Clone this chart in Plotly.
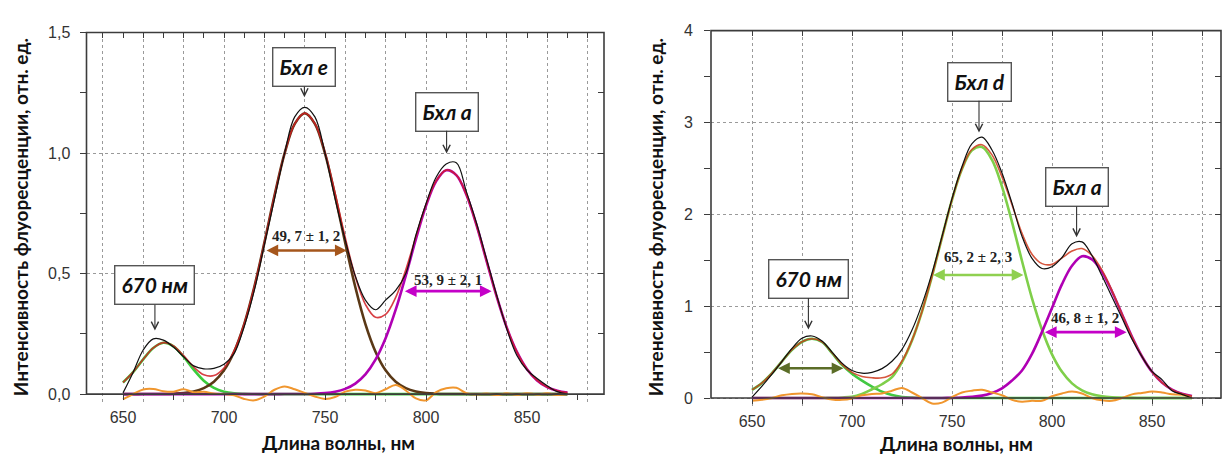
import plotly.graph_objects as go

# ---------------- data: wavelength grid, nm ----------------
wl = [650, 655, 660, 665, 670, 675, 680, 685, 690, 695, 700, 705, 710, 715, 720,
      725, 730, 735, 740, 745, 750, 755, 760, 765, 770, 775, 780, 785, 790, 795,
      800, 805, 810, 815, 820, 825, 830, 835, 840, 845, 850, 855, 860, 865, 870]

# ---------------- left panel (Бхл e / Бхл a) ----------------
left_exp = [0.005, 0.09, 0.183, 0.229, 0.224, 0.195, 0.155, 0.117, 0.105, 0.107, 0.124,
            0.168, 0.28, 0.43, 0.62, 0.81, 1.0, 1.15, 1.19, 1.15, 1.0, 0.81, 0.64, 0.49,
            0.39, 0.35, 0.39, 0.43, 0.5, 0.66, 0.79, 0.9, 0.955, 0.96, 0.84, 0.71, 0.56,
            0.41, 0.27, 0.16, 0.1, 0.065, 0.035, 0.01, 0.0]
left_fit = [0.0483, 0.0912, 0.1444, 0.1916, 0.2135, 0.2, 0.1594, 0.1123, 0.0802, 0.0768,
            0.1085, 0.1792, 0.2915, 0.4443, 0.6284, 0.8233, 0.9985, 1.1211, 1.1656, 1.1226,
            1.0027, 0.8333, 0.6501, 0.4878, 0.3725, 0.3189, 0.3305, 0.4013, 0.5163, 0.6533,
            0.7853, 0.8846, 0.9293, 0.9089, 0.8273, 0.7006, 0.552, 0.4045, 0.2758, 0.1749,
            0.1032, 0.0567, 0.0289, 0.0138, 0.0061]
left_670 = [0.0483, 0.0912, 0.1443, 0.1914, 0.2129, 0.1983, 0.1549, 0.1014, 0.0556, 0.0256,
            0.0099, 0.0032, 0.0009, 0.0002, 0, 0, 0, 0, 0, 0, 0, 0, 0, 0, 0, 0, 0, 0, 0, 0,
            0, 0, 0, 0, 0, 0, 0, 0, 0, 0, 0, 0, 0, 0, 0]
left_e = [0, 0, 0.0001, 0.0002, 0.0006, 0.0017, 0.0045, 0.0109, 0.0246, 0.0512, 0.0986,
          0.176, 0.2906, 0.4441, 0.6284, 0.8233, 0.9984, 1.1209, 1.165, 1.1209, 0.9984,
          0.8233, 0.6284, 0.4441, 0.2906, 0.176, 0.0986, 0.0512, 0.0246, 0.0109, 0.0045,
          0.0017, 0.0006, 0.0002, 0.0001, 0, 0, 0, 0, 0, 0, 0, 0, 0, 0]
left_a = [0, 0, 0, 0, 0, 0, 0, 0, 0, 0, 0, 0, 0, 0, 0, 0, 0.0001, 0.0002, 0.0006, 0.0017,
          0.0043, 0.01, 0.0217, 0.0437, 0.0819, 0.1429, 0.2319, 0.3501, 0.4917, 0.6424,
          0.7808, 0.8829, 0.9287, 0.9087, 0.8272, 0.7006, 0.552, 0.4045, 0.2758, 0.1749,
          0.1032, 0.0567, 0.0289, 0.0138, 0.0061]
left_resid = [-0.022, 0.0, 0.019, 0.021, 0.012, 0.01, 0.02, 0.008, 0.01, 0.002, 0.0, -0.005,
              -0.02, -0.026, -0.01, 0.018, 0.032, 0.02, 0.005, -0.01, -0.02, -0.012, 0.01,
              0.018, 0.015, 0.004, 0.02, 0.038, 0.015, -0.018, -0.026, 0.008, 0.024, 0.026,
              0.004, -0.002, 0.002, -0.004, 0.003, -0.003, 0.004, -0.002, 0.003, -0.004, 0.0]

# ---------------- right panel (Бхл d / Бхл a) ----------------
right_exp = [0.01, 0.13, 0.26, 0.4, 0.54, 0.65, 0.675, 0.62, 0.5, 0.38, 0.3, 0.27, 0.28,
             0.32, 0.4, 0.53, 0.74, 1.02, 1.36, 1.76, 2.17, 2.52, 2.77, 2.84, 2.7, 2.45,
             2.12, 1.76, 1.52, 1.41, 1.43, 1.53, 1.68, 1.7, 1.55, 1.33, 1.1, 0.87, 0.64,
             0.45, 0.29, 0.2, 0.08, 0.04, 0.0]
right_fit = [0.088, 0.164, 0.271, 0.399, 0.525, 0.612, 0.645, 0.611, 0.492, 0.366, 0.279,
             0.235, 0.22, 0.22, 0.26, 0.403, 0.63, 0.943, 1.326, 1.748, 2.159, 2.497, 2.708,
             2.758, 2.647, 2.407, 2.105, 1.792, 1.565, 1.463, 1.455, 1.525, 1.6, 1.627,
             1.551, 1.392, 1.169, 0.915, 0.667, 0.453, 0.2855, 0.1675, 0.0913, 0.0463, 0.0218]
right_670 = [0.088, 0.164, 0.271, 0.399, 0.525, 0.612, 0.645, 0.61, 0.49, 0.36, 0.265, 0.19,
             0.125, 0.07, 0.033, 0.012, 0.004, 0.001, 0, 0, 0, 0, 0, 0, 0, 0, 0, 0, 0, 0, 0,
             0, 0, 0, 0, 0, 0, 0, 0, 0, 0, 0, 0, 0, 0]
right_d = [0, 0, 0, 0, 0, 0, 0.0003, 0.0008, 0.0022, 0.0057, 0.0137, 0.045, 0.095, 0.15,
           0.2274, 0.3906, 0.6262, 0.942, 1.3254, 1.747, 2.157, 2.492, 2.696, 2.732, 2.592,
           2.302, 1.915, 1.492, 1.085, 0.7428, 0.4753, 0.2847, 0.1596, 0.0838, 0.0412, 0.019,
           0.0082, 0.0033, 0.0012, 0.0004, 0.0001, 0, 0, 0, 0]
right_a = [0, 0, 0, 0, 0, 0, 0, 0, 0, 0, 0, 0, 0, 0, 0, 0, 0, 0, 0.0002, 0.0007, 0.002,
           0.005, 0.012, 0.026, 0.055, 0.105, 0.19, 0.3, 0.48, 0.72, 0.98, 1.24, 1.44,
           1.543, 1.5093, 1.3726, 1.1603, 0.9119, 0.6661, 0.4522, 0.2854, 0.1675, 0.0913,
           0.0463, 0.0218]
right_resid = [-0.03, -0.02, 0.0, 0.03, 0.045, 0.05, 0.04, 0.01, -0.015, -0.02, -0.005, 0.03,
               0.045, 0.05, 0.08, 0.11, 0.06, 0.0, -0.06, -0.05, 0.01, 0.06, 0.08, 0.09, 0.06,
               0.03, -0.02, -0.04, -0.03, -0.03, 0.02, 0.05, 0.07, 0.05, 0.0, -0.025, -0.03,
               0.0, 0.04, 0.055, 0.07, 0.06, 0.04, 0.035, 0.0]

# ---------------- tick / grid positions ----------------
left_grid_x = list(range(640, 881, 20))
left_top_ticks = list(range(640, 881, 10))
right_grid_x = list(range(650, 876, 25))
bottom_ticks = list(range(650, 876, 25))
bottom_labels = ["650", "", "700", "", "750", "", "800", "", "850", ""]

# peak labels: (text, tip wavelength, tip value, box offset px)
left_peaks = [("670 нм", 665.8, 0.264, -45), ("Бхл e", 739.8, 1.232, -30),
              ("Бхл a", 810.2, 0.998, -42)]
right_peaks = [("670 нм", 678.2, 0.745, -51), ("Бхл d", 763.5, 2.89, -51),
               ("Бхл a", 812.3, 1.75, -50)]

# FWHM markers: (from, to, level, label, label level, colour)
left_fwhm = [(720.3, 760.7, 0.596, "49, 7 ± 1, 2", 0.655, "#a5561c"),
             (788.8, 832.5, 0.427, "53, 9 ± 2, 1", 0.475, "#c400c8")]
right_fwhm = [(662.3, 695.7, 0.324, "", 0, "#5b6d27"),
              (739.8, 785.7, 1.34, "65, 2 ± 2, 3", 1.53, "#8fd050"),
              (795.7, 837.3, 0.717, "46, 8 ± 1, 2", 0.87, "#c400c8")]

# ---------------- geometry (pixels in a 1222 x 455 page) ----------------
W, H = 1222, 455
L_X0, L_X1 = 86.5, 604.0
L_RANGE_X = [650 - (123 - L_X0) / 2.02, 650 + (L_X1 - 123) / 2.02]
L_RANGE_Y = [-0.045, 1.5]
L_PX_TOP, L_PX_ZERO = 25.0, 393.0
R_X0, R_X1 = 711.0, 1221.0
R_RANGE_X = [650 - (752 - R_X0) / 2.0, 650 + (R_X1 - 752) / 2.0]
R_RANGE_Y = [-0.1, 4.0]
R_PX_TOP, R_PX_ZERO = 23.0, 397.0


def ydomain(rng, px_top, px_zero):
    scale = (px_zero - px_top) / rng[1]
    px_bottom = px_zero - rng[0] * scale
    return [(H - px_bottom) / H, (H - px_top) / H], (H - px_zero) / H


L_DOM_Y, L_ZERO = ydomain(L_RANGE_Y, L_PX_TOP, L_PX_ZERO)
R_DOM_Y, R_ZERO = ydomain(R_RANGE_Y, R_PX_TOP, R_PX_ZERO)
L_DOM_X = [L_X0 / W, L_X1 / W]
R_DOM_X = [R_X0 / W, R_X1 / W]

fig = go.Figure()


def add_panel(xa, ya, exp, fit, comps, resid, fit_color):
    for ys, col in comps:
        fig.add_trace(go.Scatter(x=wl, y=ys, mode="lines", xaxis=xa, yaxis=ya,
                                 line=dict(color=col, width=2.6, shape="spline"),
                                 showlegend=False, hoverinfo="skip"))
    fig.add_trace(go.Scatter(x=wl, y=resid, mode="lines", xaxis=xa, yaxis=ya,
                             line=dict(color="#f0962e", width=2, shape="spline"),
                             showlegend=False, hoverinfo="skip"))
    fig.add_trace(go.Scatter(x=wl, y=fit, mode="lines", xaxis=xa, yaxis=ya, opacity=0.85,
                             line=dict(color=fit_color, width=1.6, shape="spline"),
                             showlegend=False, hoverinfo="skip"))
    fig.add_trace(go.Scatter(x=wl, y=exp, mode="lines", xaxis=xa, yaxis=ya,
                             line=dict(color="#111111", width=1.2, shape="spline"),
                             showlegend=False, hoverinfo="skip"))


add_panel("x", "y", left_exp, left_fit,
          [(left_670, "#3ccc3c"), (left_e, "#5a3816"), (left_a, "#b000b4")],
          left_resid, "#d21f24")
add_panel("x2", "y2", right_exp, right_fit,
          [(right_670, "#42c842"), (right_d, "#7fcf4a"), (right_a, "#b000b4")],
          right_resid, "#d03a1e")

# empty traces so that the extra tick axes (bottom labels, top and right ticks) are drawn
for xa, ya in (("x3", "y"), ("x4", "y"), ("x", "y3"), ("x5", "y2"), ("x6", "y2"), ("x2", "y4")):
    fig.add_trace(go.Scatter(x=[None], y=[None], xaxis=xa, yaxis=ya, mode="lines",
                             showlegend=False, hoverinfo="skip"))

tickfont = dict(family="Liberation Sans, Arial", size=16, color="#333333")
grid = dict(showgrid=True, gridcolor="#9a9a9a", griddash="dot", gridwidth=1)
frame_col = "#3c3c3c"

layout = dict(
    width=W, height=H, margin=dict(l=0, r=0, t=0, b=0),
    paper_bgcolor="white", plot_bgcolor="white", separators=", ",
    showlegend=False,
    # left panel
    xaxis=dict(domain=L_DOM_X, range=L_RANGE_X, anchor="y", tickmode="array",
               tickvals=left_grid_x, showticklabels=False, ticks="", zeroline=False,
               showline=False, **grid),
    yaxis=dict(domain=L_DOM_Y, range=L_RANGE_Y, anchor="x", tickmode="linear", tick0=0,
               dtick=0.5, tickformat=".1f", ticks="outside", ticklen=6, tickwidth=1.3,
               tickcolor=frame_col, tickfont=tickfont, ticklabelstandoff=6,
               minor=dict(dtick=0.25, tick0=0, ticks="outside", ticklen=6,
                          tickcolor=frame_col, showgrid=False),
               zeroline=False, showline=False, **grid),
    xaxis3=dict(overlaying="x", anchor="free", position=L_ZERO, side="bottom",
                range=L_RANGE_X, tickmode="array", tickvals=bottom_ticks,
                ticktext=bottom_labels, ticks="outside", ticklen=5, tickwidth=1.3,
                tickcolor=frame_col, tickfont=tickfont, showgrid=False, zeroline=False,
                showline=False, ticklabelstandoff=4),
    xaxis4=dict(overlaying="x", anchor="y", side="top", range=L_RANGE_X,
                tickmode="array", tickvals=left_top_ticks, ticks="inside", ticklen=5,
                tickwidth=1.3, tickcolor=frame_col, showticklabels=False,
                showgrid=False, zeroline=False, showline=False),
    yaxis3=dict(overlaying="y", anchor="x", side="right", range=L_RANGE_Y,
                tickmode="linear", tick0=0, dtick=0.25, ticks="inside", ticklen=6,
                tickwidth=1.3, tickcolor=frame_col, showticklabels=False,
                showgrid=False, zeroline=False, showline=False),
    # right panel
    xaxis2=dict(domain=R_DOM_X, range=R_RANGE_X, anchor="y2", tickmode="array",
                tickvals=right_grid_x, showticklabels=False, ticks="", zeroline=False,
                showline=False, **grid),
    yaxis2=dict(domain=R_DOM_Y, range=R_RANGE_Y, anchor="x2", tickmode="linear", tick0=0,
                dtick=1, tickformat="d", ticks="outside", ticklen=6, tickwidth=1.3,
                tickcolor=frame_col, tickfont=tickfont, ticklabelstandoff=8,
                minor=dict(dtick=0.5, tick0=0, ticks="outside", ticklen=6,
                           tickcolor=frame_col, showgrid=False),
                zeroline=False, showline=False, **grid),
    xaxis5=dict(overlaying="x2", anchor="free", position=R_ZERO, side="bottom",
                range=R_RANGE_X, tickmode="array", tickvals=bottom_ticks,
                ticktext=bottom_labels, ticks="outside", ticklen=5, tickwidth=1.3,
                tickcolor=frame_col, tickfont=tickfont, showgrid=False, zeroline=False,
                showline=False, ticklabelstandoff=4),
    xaxis6=dict(overlaying="x2", anchor="y2", side="top", range=R_RANGE_X,
                tickmode="array", tickvals=right_grid_x, ticks="inside", ticklen=5,
                tickwidth=1.3, tickcolor=frame_col, showticklabels=False,
                showgrid=False, zeroline=False, showline=False),
    yaxis4=dict(overlaying="y2", anchor="x2", side="right", range=R_RANGE_Y,
                tickmode="linear", tick0=0, dtick=0.5, ticks="inside", ticklen=6,
                tickwidth=1.3, tickcolor=frame_col, showticklabels=False,
                showgrid=False, zeroline=False, showline=False),
)
fig.update_layout(**layout)

# frames and a white strip hiding the grid below the zero line
shapes = []
for dx, dy, zero in ((L_DOM_X, L_DOM_Y, L_ZERO), (R_DOM_X, R_DOM_Y, R_ZERO)):
    shapes.append(dict(type="rect", xref="paper", yref="paper", x0=dx[0], x1=dx[1],
                       y0=dy[0] - 0.001, y1=zero, fillcolor="white", line=dict(width=0),
                       layer="between"))
    shapes.append(dict(type="rect", xref="paper", yref="paper", x0=dx[0], x1=dx[1],
                       y0=zero, y1=dy[1], line=dict(color=frame_col, width=1.6),
                       layer="above"))
fig.update_layout(shapes=shapes)

annotations = []
box_font = dict(family="Lato, Noto Sans", size=21, color="#111111")
for peaks, xr, yr in ((left_peaks, "x", "y"), (right_peaks, "x2", "y2")):
    for text, px, py, off in peaks:
        annotations.append(dict(
            x=px, y=py, xref=xr, yref=yr, text="<b><i>" + text + "</i></b>",
            showarrow=True, ax=0, ay=off, arrowhead=5, arrowsize=1.3, arrowwidth=1.1,
            arrowcolor="#333333", font=box_font, bgcolor="white", bordercolor="#555555",
            borderwidth=1.4, borderpad=6, standoff=0))

lab_font = dict(family="Liberation Serif, DejaVu Serif", size=15, color="#222222")
for fw, xr, yr in ((left_fwhm, "x", "y"), (right_fwhm, "x2", "y2")):
    for x0, x1, lvl, text, tl, col in fw:
        annotations.append(dict(
            x=x1, y=lvl, ax=x0, ay=lvl, xref=xr, yref=yr, axref=xr, ayref=yr, text="",
            showarrow=True, arrowside="end+start", arrowhead=2, arrowsize=0.9,
            arrowwidth=2.6, arrowcolor=col, standoff=0, startstandoff=0))
        if text:
            annotations.append(dict(
                x=(x0 + x1) / 2, y=tl, xref=xr, yref=yr, text="<b>" + text + "</b>",
                showarrow=False, font=lab_font))

title_font = dict(family="Lato, Noto Sans", size=19, color="#111111")
xtitle_font = dict(family="Lato, Noto Sans", size=19, color="#111111")
ytitle = "<b>Интенсивность флуоресценции, отн. ед.</b>"
xtitle = "<b>Длина волны, нм</b>"
annotations += [
    dict(x=20 / W, y=(H - 213) / H, xref="paper", yref="paper", text=ytitle,
         textangle=-90, showarrow=False, font=title_font, xanchor="center",
         yanchor="middle"),
    dict(x=655 / W, y=(H - 213) / H, xref="paper", yref="paper", text=ytitle,
         textangle=-90, showarrow=False, font=title_font, xanchor="center",
         yanchor="middle"),
    dict(x=338 / W, y=(H - 442) / H, xref="paper", yref="paper", text=xtitle,
         showarrow=False, font=xtitle_font, xanchor="center", yanchor="middle"),
    dict(x=956 / W, y=(H - 443) / H, xref="paper", yref="paper", text=xtitle,
         showarrow=False, font=xtitle_font, xanchor="center", yanchor="middle"),
]
fig.update_layout(annotations=annotations)

fig.write_html("out.html")
